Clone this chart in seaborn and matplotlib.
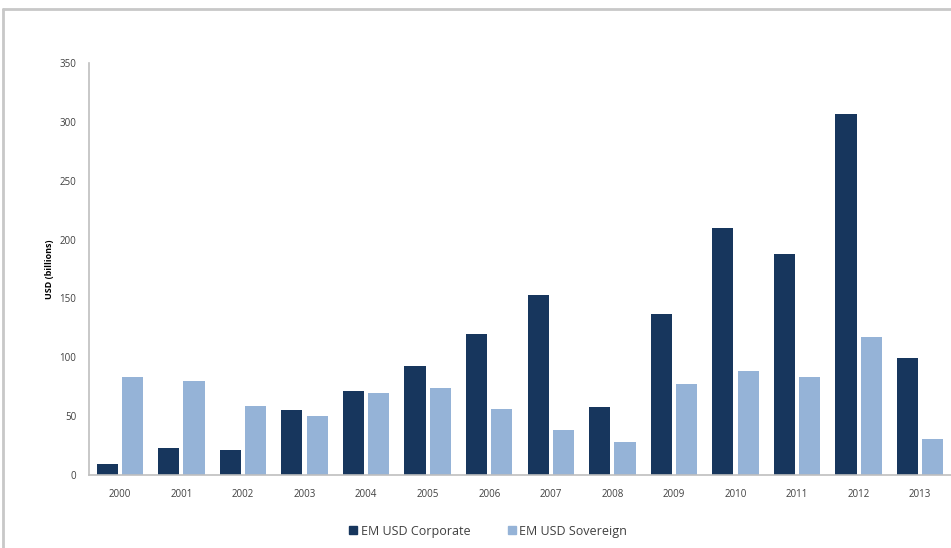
import matplotlib
matplotlib.use("Agg")
import matplotlib.pyplot as plt
import seaborn as sns
import pandas as pd
from matplotlib.lines import Line2D

years = [str(y) for y in range(2000, 2014)]
corporate = [9, 23, 21, 55, 71, 93, 120, 153, 58, 137, 210, 188, 307, 99]
sovereign = [83, 80, 59, 50, 70, 74, 56, 38, 28, 77, 88, 83, 117, 31]
series_names = ["EM USD Corporate", "EM USD Sovereign"]
colors = ["#17365d", "#95b3d7"]
y_ticks = [0, 50, 100, 150, 200, 250, 300, 350]

df = pd.DataFrame({
    "year": years * 2,
    "value": corporate + sovereign,
    "series": [series_names[0]] * len(years) + [series_names[1]] * len(years),
})

sns.set_style("white")
plt.rcParams["font.family"] = ["Open Sans", "DejaVu Sans"]

fig = plt.figure(figsize=(9.51, 5.48), dpi=100)
ax = fig.add_axes([89 / 951, 73 / 548, 1 - 89 / 951, (475 - 63) / 548])

sns.barplot(data=df, x="year", y="value", hue="series", palette=colors,
            width=0.82, gap=0.16, ax=ax, saturation=1, legend=False,
            edgecolor="none")

ax.set_xlim(-0.5, 13.5)
ax.set_ylim(0, 350)
ax.set_yticks(y_ticks)
ax.set_yticklabels([str(t) for t in y_ticks])
ax.tick_params(axis="both", length=0, labelsize=7, labelcolor="#404040")
ax.tick_params(axis="y", pad=9)
ax.tick_params(axis="x", pad=10)
ax.set_xlabel("")
ax.set_ylabel("USD (billions)", fontsize=6.5, fontweight="bold", color="#000000", labelpad=4)

for s in ["top", "right"]:
    ax.spines[s].set_visible(False)
for s in ["left", "bottom"]:
    ax.spines[s].set_color("#bfbfbf")
    ax.spines[s].set_linewidth(1.2)

handles = [Line2D([], [], marker="s", linestyle="none", markersize=6,
                  markerfacecolor=c, markeredgecolor=c) for c in colors]
fig.legend(handles, series_names, loc="center", bbox_to_anchor=(487 / 951, 1 - 531 / 548),
           ncol=2, frameon=False, fontsize=9, handletextpad=0.1, columnspacing=2.8,
           labelcolor="#404040", handlelength=1.0)

# outer grey frame (top and left edges visible)
fig.add_artist(Line2D([3 / 951, 1], [1 - 9 / 548, 1 - 9 / 548], transform=fig.transFigure,
                      color="#c8c8c8", linewidth=2))
fig.add_artist(Line2D([3 / 951, 3 / 951], [0, 1 - 9 / 548], transform=fig.transFigure,
                      color="#c8c8c8", linewidth=2))

fig.savefig("out.png", dpi=100)
